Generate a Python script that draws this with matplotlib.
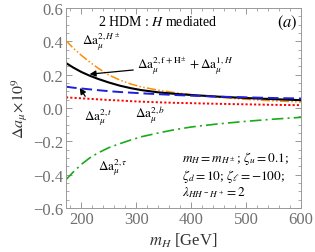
import matplotlib
matplotlib.use("Agg")
import matplotlib.pyplot as plt
from matplotlib.ticker import MultipleLocator, FuncFormatter

plt.rcParams['font.family'] = ['Liberation Serif', 'DejaVu Serif']
plt.rcParams['mathtext.fontset'] = 'stix'

# Data (m_H in GeV, values x 1e9)
mH = [172, 185, 200, 215, 230, 250, 270, 290, 310, 340, 370, 400, 450, 500, 550, 600]
a_Hpm = [0.404, 0.360, 0.316, 0.276, 0.240, 0.198, 0.168, 0.144, 0.126, 0.107, 0.092,
         0.080, 0.064, 0.052, 0.043, 0.036]
a_tot = [0.270, 0.243, 0.216, 0.194, 0.175, 0.153, 0.134, 0.119, 0.107, 0.094, 0.085,
         0.078, 0.068, 0.060, 0.053, 0.047]
a_t = [0.128, 0.122, 0.117, 0.112, 0.107, 0.101, 0.096, 0.092, 0.088, 0.083, 0.078,
       0.074, 0.068, 0.064, 0.060, 0.057]
a_b = [0.064, 0.061, 0.058, 0.055, 0.052, 0.048, 0.045, 0.041, 0.038, 0.034, 0.031,
       0.029, 0.025, 0.022, 0.019, 0.017]
a_tau = [-0.430, -0.385, -0.338, -0.300, -0.270, -0.238, -0.214, -0.192, -0.172, -0.150,
         -0.130, -0.114, -0.095, -0.080, -0.067, -0.056]

fig = plt.figure(figsize=(3.15, 2.53), dpi=100)
ax = fig.add_axes([66/315, 1-209/253, (301-66)/315, (209-9)/253])

ax.plot(mH, a_Hpm, color='#ff8c00', lw=1.1, dashes=[6, 1.5, 1, 1.5, 1, 1.5])
ax.plot(mH, a_tot, color='black', lw=1.5)
ax.plot(mH, a_t, color='#1f1fdd', lw=1.4, dashes=[5.5, 2.5])
ax.plot(mH, a_b, color='red', lw=1.4, dashes=[1.1, 1.1])
ax.plot(mH, a_tau, color='#1aaa1a', lw=1.2, dashes=[7, 2.5, 1.2, 2.5])

ax.set_xlim(172, 600)
ax.set_ylim(-0.6, 0.6)
ax.xaxis.set_major_locator(MultipleLocator(100))
ax.xaxis.set_minor_locator(MultipleLocator(20))
ax.yaxis.set_major_locator(MultipleLocator(0.2))
ax.yaxis.set_minor_locator(MultipleLocator(0.05))
ax.yaxis.set_major_formatter(FuncFormatter(
    lambda v, p: ('\u2212' if v < -1e-9 else '') + '%.1f' % abs(v)))
gray = '#888888'
ax.tick_params(which='both', direction='in', top=True, right=True, colors=gray,
               labelcolor='#707070', labelsize=12)
ax.tick_params(which='major', length=4, width=0.6, pad=2)
ax.tick_params(which='minor', length=2, width=0.5)
for s in ax.spines.values():
    s.set_color('#999999')
    s.set_linewidth(0.7)

ax.set_xlabel(r'$m_H$ [GeV]', fontsize=12, color='#333333', labelpad=3)
ax.set_ylabel(r'$\Delta a_\mu\!\times\!10^9$', fontsize=11.5, color='#333333', labelpad=2)

fs = 9.5
ax.text(0.39, 0.935, r'2 HDM : $H$ mediated', transform=ax.transAxes, ha='center',
        va='center', fontsize=10)
ax.text(0.985, 0.975, r'$(a)$', transform=ax.transAxes, ha='right', va='top', fontsize=12)
ax.text(201, 0.40, r'$\Delta \mathrm{a}_\mu^{2,H^\pm}$', fontsize=fs, va='center')
ax.annotate(r'$\Delta \mathrm{a}_\mu^{2,\mathrm{f}+\mathrm{H}^\pm}+\Delta \mathrm{a}_\mu^{1,H}$',
            xy=(215, 0.203), xytext=(302, 0.258), fontsize=fs, va='center',
            arrowprops=dict(arrowstyle='-|>', color='black', lw=0.9, mutation_scale=9,
                            shrinkA=1, shrinkB=0))
ax.annotate(r'$\Delta \mathrm{a}_\mu^{2,t}$', xy=(197, 0.12), xytext=(205, -0.05),
            fontsize=fs, va='center',
            arrowprops=dict(arrowstyle='-|>', color='black', lw=0.9, mutation_scale=9,
                            shrinkA=6, shrinkB=0))
ax.text(325, -0.036, r'$\Delta \mathrm{a}_\mu^{2,b}$', fontsize=fs, va='center', ha='center')
ax.text(258, -0.354, r'$\Delta \mathrm{a}_\mu^{2,\tau}$', fontsize=fs, va='center', ha='center')
ax.text(0.494, 0.17, '$m_H = m_{H^\\pm}$; $\\zeta_u = 0.1$;\n$\\zeta_d = 10$; $\\zeta_\\ell = -100$;\n$\\lambda_{HH^- H^+} = 2$',
        transform=ax.transAxes, fontsize=fs, va='center', ha='left', linespacing=1.05)

fig.savefig('out.png', dpi=100)
